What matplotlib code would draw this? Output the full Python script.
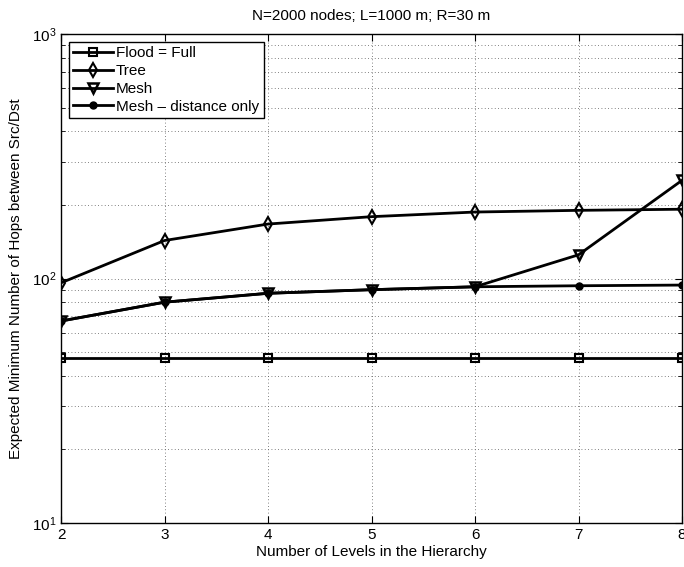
import matplotlib
matplotlib.use("Agg")
import matplotlib.pyplot as plt
from matplotlib.ticker import LogLocator, NullFormatter, FixedLocator

plt.rcParams['font.family'] = ['Liberation Sans', 'DejaVu Sans']

levels = [2, 3, 4, 5, 6, 7, 8]
flood_full = [47.4, 47.4, 47.4, 47.4, 47.4, 47.4, 47.4]
tree = [96, 143, 167, 179, 187, 190, 192]
mesh = [67, 80, 87, 90, 92.5, 125, 252]
mesh_distance_only = [67, 80, 87, 90, 92.5, 93.4, 94]

fig = plt.figure(figsize=(6.84, 5.67), dpi=100)
ax = fig.add_axes([61 / 684, 1 - 523 / 567, (682 - 61) / 684, (523 - 34) / 567])

lw = 2.0
ax.plot(levels, flood_full, color='k', lw=lw, marker='s', ms=5.5, mfc='none', mec='k', mew=1.5, label='Flood = Full')
ax.plot(levels, tree, color='k', lw=lw, marker='d', ms=7, mfc='none', mec='k', mew=1.5, label='Tree')
ax.plot(levels, mesh, color='k', lw=lw, marker='v', ms=6.5, mfc='none', mec='k', mew=1.8, label='Mesh')
ax.plot(levels, mesh_distance_only, color='k', lw=lw, marker='o', ms=5, mfc='k', mec='k', label='Mesh \u2013 distance only')

ax.set_yscale('log')
ax.set_xlim(2, 8)
ax.set_ylim(10, 1000)
ax.xaxis.set_major_locator(FixedLocator(levels))
ax.yaxis.set_major_locator(LogLocator(base=10))
ax.yaxis.set_minor_locator(LogLocator(base=10, subs=range(2, 10)))
ax.yaxis.set_minor_formatter(NullFormatter())

ax.grid(True, which='major', axis='x', linestyle=(0, (1, 3)), color='0.35', lw=0.6)
ax.grid(True, which='both', axis='y', linestyle=(0, (1, 3)), color='0.35', lw=0.6)

ax.tick_params(which='both', direction='in', top=True, right=True, labelsize=11)
ax.tick_params(which='major', length=5)
ax.tick_params(which='minor', length=3)
for s in ax.spines.values():
    s.set_linewidth(1.0)

ax.set_title('N=2000 nodes; L=1000 m; R=30 m', fontsize=11, pad=10)
ax.set_xlabel('Number of Levels in the Hierarchy', fontsize=11, labelpad=2)
ax.set_ylabel('Expected Minimum Number of Hops between Src/Dst', fontsize=11, labelpad=6)

leg = ax.legend(loc='upper left', fontsize=11, fancybox=False, framealpha=1,
                edgecolor='k', borderpad=0.3, labelspacing=0.25, handlelength=2.6,
                handletextpad=0.2, borderaxespad=0.5)
leg.get_frame().set_linewidth(1.0)

fig.savefig('out.png', dpi=100)
